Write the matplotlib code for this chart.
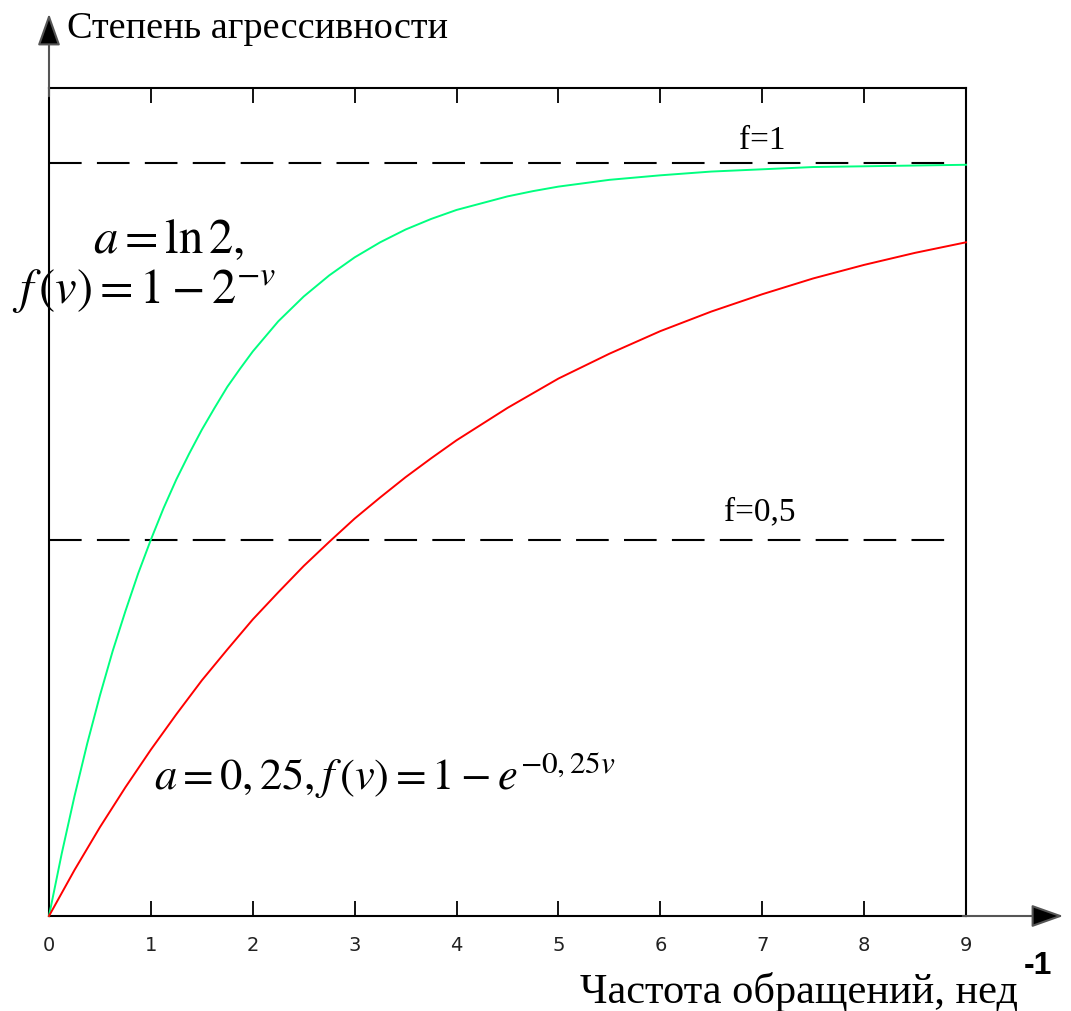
import matplotlib
matplotlib.use("Agg")
import matplotlib.pyplot as plt
from matplotlib.patches import FancyArrowPatch

plt.rcParams['mathtext.fontset'] = 'stix'
plt.rcParams['lines.scale_dashes'] = False

# значения
v_green = [0, 0.125, 0.25, 0.375, 0.5, 0.625, 0.75, 0.875, 1, 1.125, 1.25,
           1.375, 1.5, 1.625, 1.75, 1.875, 2, 2.25, 2.5, 2.75, 3, 3.25,
           3.5, 3.75, 4, 4.25, 4.5, 4.75, 5, 5.5, 6, 6.5, 7, 7.5, 8, 8.5, 9]
f_green = [0, 0.083, 0.159, 0.229, 0.293, 0.352, 0.405, 0.455, 0.500,
           0.542, 0.580, 0.614, 0.646, 0.675, 0.703, 0.727, 0.750, 0.790,
           0.823, 0.851, 0.875, 0.895, 0.912, 0.926, 0.938, 0.947, 0.956,
           0.963, 0.969, 0.978, 0.984, 0.989, 0.992, 0.995, 0.996, 0.997,
           0.998]

v_red = [0, 0.25, 0.5, 0.75, 1, 1.25, 1.5, 1.75, 2, 2.25, 2.5, 2.75, 3,
         3.25, 3.5, 3.75, 4, 4.5, 5, 5.5, 6, 6.5, 7, 7.5, 8, 8.5, 9]
f_red = [0, 0.061, 0.118, 0.171, 0.221, 0.268, 0.313, 0.354, 0.394, 0.430,
         0.465, 0.497, 0.528, 0.556, 0.583, 0.608, 0.632, 0.675, 0.714,
         0.747, 0.777, 0.803, 0.826, 0.847, 0.865, 0.881, 0.895]

niveaux = [1.0, 0.5]
niveaux_txt = ["f=1", "f=0,5"]
x_ticks = list(range(10))

W, H = 1071, 1012
fig = plt.figure(figsize=(W / 100, H / 100), dpi=100)


def px(x, y):
    return x / W, 1 - y / H


l, b = px(49, 917)
r, t = px(966, 89)
ax = fig.add_axes([l, b, r - l, t - b])
ax.set_xlim(0, 9)
ax.set_ylim(0, 1.1)

# courbes
ax.plot(v_green, f_green, color='#00ff80', lw=1.4, clip_on=False, zorder=3)
ax.plot(v_red, f_red, color='#ff0000', lw=1.4, clip_on=False, zorder=3)

# lignes pointillées f=1 et f=0,5
for niv in niveaux:
    ax.plot([0, 8.83], [niv, niv], color='black', lw=1.5,
            dashes=(23.5, 11), zorder=2)
ax.text(7.0, 1.031, niveaux_txt[0], family='Liberation Serif',
        fontsize=24, ha='center', va='center')
ax.text(6.98, 0.538, niveaux_txt[1], family='Liberation Serif',
        fontsize=24, ha='center', va='center')

# ticks
ax.set_xticks(x_ticks)
ax.set_xticklabels([str(i) for i in x_ticks], fontsize=14, color='#222222')
ax.set_yticks([])
ax.tick_params(axis='x', direction='in', length=11, width=1.3,
               pad=14, top=True)
for s in ax.spines.values():
    s.set_linewidth(1.5)

# formules
ax.text(1.17, 0.9, r'$a=\ln 2,$', fontsize=35, ha='center', va='center')
ax.text(0.93, 0.832, r'$f\,(v)=1-2^{-v}$', fontsize=35,
        ha='center', va='center')
ax.text(3.3, 0.188, r'$a=0,25,f\,(v)=1-e^{-0,25v}$', fontsize=32,
        ha='center', va='center')

# flèches des axes
fig.add_artist(FancyArrowPatch(
    px(49, 100), px(49, 12), transform=fig.transFigure,
    arrowstyle='-|>,head_length=9,head_width=3.2', fc='black', ec='#555555',
    lw=1.5, mutation_scale=2.2))
fig.add_artist(FancyArrowPatch(
    px(960, 917), px(1066, 917), transform=fig.transFigure,
    arrowstyle='-|>,head_length=9,head_width=3.2', fc='black', ec='#555555',
    lw=1.5, mutation_scale=2.2))

# titres des axes
fig.text(*px(67, 29), "Степень агрессивности", family='Liberation Serif',
         fontsize=27.5, ha='left', va='center')
fig.text(*px(580, 992), "Частота обращений, нед", family='Liberation Serif',
         fontsize=30.5, ha='left', va='center')
fig.text(*px(1024, 966), "-1", family='Liberation Sans', fontweight='bold',
         fontsize=23, ha='left', va='center')

fig.savefig("out.png", dpi=100)
